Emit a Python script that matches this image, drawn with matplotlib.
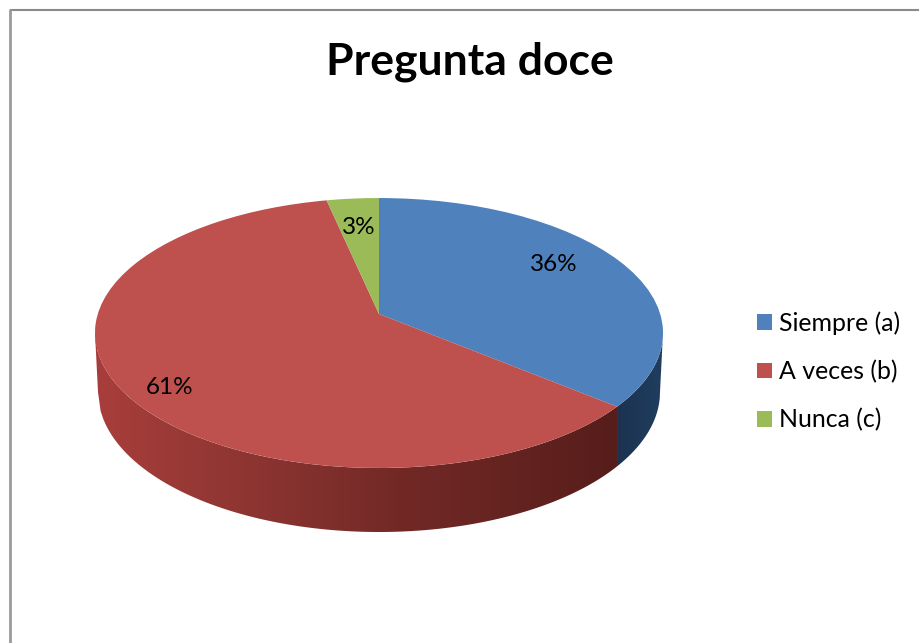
import numpy as np
import matplotlib
matplotlib.use("Agg")
import matplotlib.pyplot as plt
from matplotlib.patches import Patch, Polygon
from matplotlib.transforms import Transform

title = "Pregunta doce"
categories = ["Siempre (a)", "A veces (b)", "Nunca (c)"]
percentages = [36, 60.6, 3.4]
colors = ["#4F81BD", "#BE504D", "#9BBB59"]

W, H = 919, 643
plt.rcParams["font.family"] = ["Lato", "DejaVu Sans"]

# Pie geometry in reference pixels
APEX_X, APEX_Y = 379, 314
K, AY, BX = 38 / 270, 132.3, 281.2
TOP_CY, TOP_RX, TOP_RY = 333, 284, 135
BOT_CY, BOT_RX, BOT_RY = 392, 281, 140


class Perspective(Transform):
    """Maps the flat unit pie on to the tilted disc."""
    input_dims = output_dims = 2
    has_inverse = False
    is_separable = False

    def transform_non_affine(self, values):
        v = np.asarray(values, dtype=float)
        d = 1 + K * v[:, 1]
        return np.column_stack((APEX_X + BX * v[:, 0] / d, APEX_Y - AY * v[:, 1] / d))


fig = plt.figure(figsize=(W / 100, H / 100), dpi=100, facecolor="white")
ax = fig.add_axes([0, 0, 1, 1])

wedges, _, autotexts = ax.pie(
    percentages, colors=colors, startangle=90, counterclock=False,
    autopct="%.0f%%", textprops={"fontsize": 17.5, "color": "black"},
    wedgeprops={"linewidth": 0.6, "edgecolor": "none", "zorder": 3},
)
persp = Perspective()
for w in wedges:
    w.set_transform(persp + ax.transData)
    w.set_clip_on(False)

# Side wall
theta_seam = np.pi / 2 - 2 * np.pi * percentages[0] / sum(percentages)
seam_pt = persp.transform_non_affine(np.array([[np.cos(theta_seam), np.sin(theta_seam)]]))[0]
seam_x = seam_pt[0]


def front_arc(cx, cy, rx, ry, x0, x1, n=200):
    xs = np.linspace(x0, x1, n)
    s = np.clip((xs - cx) / rx, -1, 1)
    return np.column_stack((xs, cy + ry * np.sqrt(1 - s ** 2)))


def wall(x0, x1, xb0, xb1):
    top = front_arc(APEX_X, TOP_CY, TOP_RX, TOP_RY, x0, x1)
    bot = front_arc(APEX_X, BOT_CY, BOT_RX, BOT_RY, xb0, xb1)
    return np.vstack((top, bot[::-1]))


stops_x = [95, 200, 300, 400, 500, 620, 660]
stops_r = [168, 150, 132, 114, 102, 86, 86]
stops_g = [62, 56, 49, 41, 36, 29, 29]
stops_b = [59, 53, 46, 38, 33, 26, 26]
xx = np.arange(95, 665)
grad_red = np.stack([np.interp(xx, stops_x, c) for c in (stops_r, stops_g, stops_b)], -1)[None] / 255
grad_blue = np.stack([np.interp(xx, [seam_x, 663], c) for c in ([28, 32], [50, 62], [80, 96])], -1)[None] / 255

for grad, pts in ((grad_red, wall(95, seam_x, 98, seam_x)), (grad_blue, wall(seam_x, 663, seam_x, 660))):
    poly = Polygon(pts, closed=True, transform=ax.transData, facecolor="none", edgecolor="none")
    ax.add_patch(poly)
    im = ax.imshow(grad, extent=(95, 665, 540, 320), aspect="auto", zorder=1, interpolation="bilinear")
    im.set_clip_path(poly)

ax.set_aspect("auto")
ax.set_xlim(0, W)
ax.set_ylim(H, 0)
ax.axis("off")

# Percentage labels
for txt, (x, y) in zip(autotexts, [(554, 264.5), (170, 387.5), (359, 228)]):
    txt.set_position((x, y))
    txt.set_ha("center")
    txt.set_va("center")
    txt.set_zorder(5)

# Chart border: top and left only
ax.plot([10, W], [9.5, 9.5], color="#8a8a8a", lw=1.5, solid_capstyle="butt", zorder=6)
ax.plot([10, 10], [9, H], color="#9a9a9a", lw=2, solid_capstyle="butt", zorder=6)

ax.text(470, 62, title, fontsize=32, fontweight="bold", ha="center", va="center", color="black")

handles = [Patch(facecolor=c, edgecolor="none") for c in colors]
leg = ax.legend(
    handles, categories, loc="center left", bbox_to_anchor=(757 / W, 1 - 371.5 / H),
    bbox_transform=fig.transFigure, frameon=False, fontsize=17.9,
    handlelength=0.6, handleheight=0.6, handletextpad=0.28, labelspacing=1.0, borderpad=0, borderaxespad=0,
)

fig.savefig("out.png", dpi=100, facecolor="white")
